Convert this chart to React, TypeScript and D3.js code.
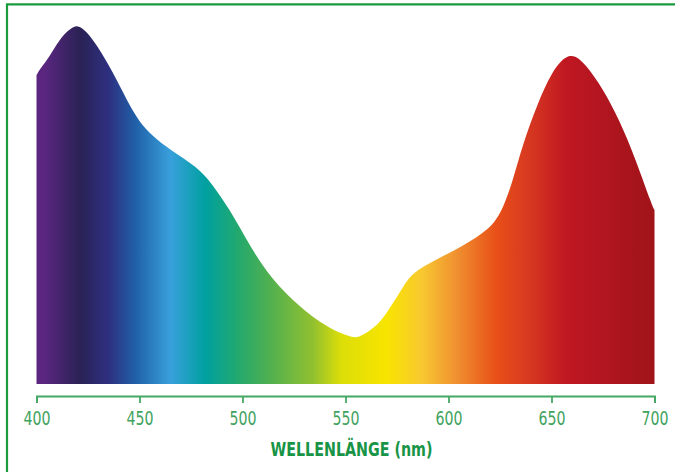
import { useEffect, useRef } from "react";
import * as d3 from "d3";

// spectrum (relative intensity, 0..100)
const wavelengths = [
  400, 402, 406, 411, 416, 420, 424, 431, 439, 445, 450, 456, 465, 478, 485,
  494, 502, 510, 518, 526, 534, 542, 550, 555, 558, 566, 571, 578, 582, 594,
  607, 620, 626, 631, 636, 643, 650, 659, 667, 675, 683, 691, 699, 700,
];
const intensity = [
  85.8, 87.8, 90.6, 95.6, 98.6, 99.8, 98.2, 92.8, 84.5, 77.5, 72.8, 69.0, 65.0,
  60.3, 55.8, 48.3, 40.0, 32.5, 26.9, 22.5, 18.6, 15.6, 13.5, 12.8, 13.4, 16.4,
  20.6, 26.9, 30.8, 34.6, 38.3, 43.0, 48.0, 56.0, 66.5, 77.5, 86.8, 92.8, 88.6,
  81.9, 73.3, 62.2, 49.2, 48.3,
];

// colour of the light along the x axis
const stopNm = [
  400, 404, 421, 435, 448, 465, 482, 497, 513, 534, 548, 570, 587, 604, 623,
  638, 657, 677, 700,
];
const stopColor = [
  "#5b2580", "#5a2680", "#2a2255", "#2e2f80", "#2060a8", "#38a0dc", "#00a0a0",
  "#20a870", "#50b050", "#90c030", "#dcde08", "#f8e400", "#f8c830", "#f09030",
  "#e85018", "#d83a20", "#c01822", "#b01520", "#a01418",
];

const tickValues = [400, 450, 500, 550, 600, 650, 700];
const axisTitle = "WELLENLÄNGE (nm)";

const W = 675;
const H = 472;

export default function App() {
  const ref = useRef<SVGSVGElement>(null);

  useEffect(() => {
    const svg = d3.select(ref.current);
    svg.selectAll("*").remove();

    const x = d3.scaleLinear().domain([400, 700]).range([36.5, 654.5]);
    const y = d3.scaleLinear().domain([0, 100]).range([384, 24]);

    const data = wavelengths.map((w, i) => ({ w, v: intensity[i] }));

    const grad = svg
      .append("defs")
      .append("linearGradient")
      .attr("id", "spectrum")
      .attr("gradientUnits", "userSpaceOnUse")
      .attr("x1", x(400))
      .attr("x2", x(700))
      .attr("y1", 0)
      .attr("y2", 0);
    stopNm.forEach((nm, i) => {
      grad
        .append("stop")
        .attr("offset", (nm - 400) / 300)
        .attr("stop-color", stopColor[i]);
    });

    const area = d3
      .area<{ w: number; v: number }>()
      .curve(d3.curveBasis)
      .x((d) => x(d.w))
      .y0(y(0))
      .y1((d) => y(d.v));

    svg.append("path").datum(data).attr("fill", "url(#spectrum)").attr("d", area);

    // frame (only top and left edges are in the picture)
    svg
      .append("path")
      .attr("d", `M7,${H} V4.3 H${W}`)
      .attr("fill", "none")
      .attr("stroke", "#1c9a3e")
      .attr("stroke-width", 2.2);

    const axis = svg
      .append("g")
      .attr("transform", "translate(0,396)")
      .call(
        d3
          .axisBottom(x)
          .tickValues(tickValues)
          .tickSizeInner(7)
          .tickSizeOuter(7)
          .tickPadding(8)
          .tickFormat(d3.format("d"))
      );
    axis.selectAll("path, line").attr("stroke", "#46a865").attr("stroke-width", 1.8);
    axis
      .selectAll("text")
      .attr("fill", "#3fa35e")
      .attr("font-family", "'Liberation Sans Narrow', 'DejaVu Sans Condensed', sans-serif")
      .attr("font-size", 19.5)
      .attr("textLength", 27)
      .attr("lengthAdjust", "spacingAndGlyphs");

    svg
      .append("text")
      .attr("x", 351.5)
      .attr("y", 456)
      .attr("text-anchor", "middle")
      .attr("fill", "#189446")
      .attr("font-family", "'Liberation Sans Narrow', 'DejaVu Sans Condensed', sans-serif")
      .attr("font-weight", "bold")
      .attr("font-size", 20)
      .attr("textLength", 162)
      .attr("lengthAdjust", "spacingAndGlyphs")
      .text(axisTitle);
  }, []);

  return (
    <svg
      ref={ref}
      width={W}
      height={H}
      style={{ position: "absolute", left: 0, top: 0, display: "block", background: "#fff" }}
    />
  );
}
